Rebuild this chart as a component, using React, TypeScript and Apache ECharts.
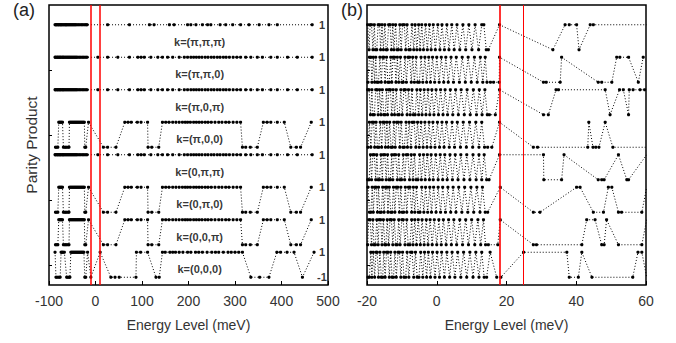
import React, { useEffect, useRef } from "react";
import * as echarts from "echarts";

type Pt = [number, number];

const FONT = "'Liberation Sans', Arial, Helvetica, sans-serif";

// row labels, top -> bottom
const kLabels = ["k=(π,π,π)", "k=(π,π,0)", "k=(π,0,π)", "k=(π,0,0)", "k=(0,π,π)", "k=(0,π,0)", "k=(0,0,π)", "k=(0,0,0)"];

// axis ranges / ticks
const aXTicks = [-100, 0, 100, 200, 300, 400, 500];
const bXTicks = [-20, 0, 20, 40, 60];
const yTickValues = [0, 5.2, 10.4, 15.6];
const aMarkers = [-10, 10];
const bMarkers = [18.2, 24.9];

// ---------- panel (a) ----------
// k=(π,π,π): all levels with parity +1
const aPiPiPiE = [-87, -85, -84, -82, -80, -79, -77, -75, -74, -72, -70, -68, -66, -64, -63, -61, -59, -57, -55, -53, -51, -49, -47, -45, -43, -41, -38, -35, -32, -29, -26, -23, -20, -18,
  26, 73, 116, 126, 159, 169, 198, 205, 216, 230, 241, 248, 268, 280, 295, 312, 330, 352, 373, 391, 466];
// k=(π,π,0), (π,0,π), (0,π,π): all +1
const aPiPi0E = [-87, -86, -84, -82, -81, -79, -77, -76, -74, -72, -70, -69, -67, -65, -63, -61, -59, -57, -55, -53, -51, -49, -47, -45, -43, -41, -39, -36, -33, -30, -27, -24, -21, -18,
  5, 26, 48, 73, 91, 98, 105, 119, 134, 144, 155, 166, 180, 191, 198, 205, 211, 217, 223, 229, 236, 242, 249, 255, 262, 268, 275, 281, 288, 296, 304, 312, 323, 334, 348, 359, 377, 391, 413, 434, 466];
// k=(π,0,0), (0,π,0), (0,0,π)
const aStepPts: Pt[] = [[-86, -1], [-84, -1], [-81, -1], [-79, 1], [-77, 1], [-75, 1], [-73, 1], [-71, 1], [-69, -1], [-66, -1], [-63, -1], [-60, -1], [-57, -1], [-56, 1], [-54, 1], [-52, 1], [-50, 1], [-48, 1], [-46, 1], [-44, 1], [-42, 1], [-40, 1], [-38, 1], [-36, 1], [-34, 1], [-32, 1], [-30, 1], [-28, 1], [-26, 1], [-24, 1], [-23, -1], [-21, -1], [-15, 1],
  [17, -1], [26, -1], [44, -1], [63, 1], [70, 1], [77, 1], [90, 1], [98, 1], [112, 1], [113, -1], [121, -1], [136, -1], [144, 1], [151, 1], [158, 1], [166, 1], [173, 1], [180, 1], [187, 1], [193, 1], [198, 1], [204, 1], [211, 1], [217, 1], [223, 1], [229, 1], [236, 1], [242, 1], [249, 1], [257, 1], [265, 1], [272, 1], [280, 1], [287, 1], [296, 1], [304, 1], [312, 1],
  [316, -1], [323, -1], [333, -1], [348, -1], [361, 1], [369, 1], [377, 1], [391, 1], [406, 1], [420, -1], [432, -1], [441, -1], [464, 1]];
// k=(0,0,0)
const a000Pts: Pt[] = [[-87, 1], [-85, -1], [-82, -1], [-79, -1], [-76, -1], [-74, 1], [-72, 1], [-70, 1], [-67, 1], [-62, -1], [-60, -1], [-57, -1], [-55, -1], [-53, 1], [-51, 1], [-49, 1], [-47, 1], [-45, 1], [-43, 1], [-41, 1], [-39, 1], [-37, 1], [-35, 1], [-33, 1], [-31, 1], [-29, 1], [-27, 1], [-25, 1], [-23, -1], [-21, -1], [-17, 1], [-10, -1], [10, 1],
  [33, -1], [42, -1], [51, -1], [87, -1], [88, 1], [97, 1], [112, 1], [130, -1], [137, -1], [144, 1], [150, 1], [160, 1], [166, 1], [172, 1], [180, 1], [188, 1], [198, 1], [205, 1], [215, 1], [222, 1], [230, 1], [240, 1], [250, 1], [258, 1], [265, 1], [275, 1], [285, 1], [292, 1], [300, 1], [308, 1], [316, 1],
  [334, -1], [353, -1], [373, -1], [390, 1], [398, 1], [412, 1], [427, 1], [445, -1], [470, 1]];

// ---------- panel (b) ----------
const bPiPiPi: Pt[] = [[-19.8, 1], [-19.4, -1], [-19.1, 1], [-18.7, 1], [-18.3, -1], [-17.9, 1], [-17.6, -1], [-17.2, -1], [-16.8, 1], [-16.4, 1], [-16.1, -1], [-15.7, 1], [-15.3, -1], [-14.9, 1], [-14.5, -1], [-14.2, -1], [-13.8, 1], [-13.4, 1], [-13.0, -1], [-12.6, 1], [-12.3, -1], [-11.8, 1], [-11.4, -1], [-11.0, -1], [-10.6, 1], [-10.2, -1], [-9.8, 1], [-9.3, 1], [-8.9, -1], [-8.5, 1], [-8.0, -1], [-7.6, -1], [-7.1, 1], [-6.6, -1], [-6.2, 1], [-5.7, -1], [-5.2, 1], [-4.8, -1], [-4.3, 1], [-3.8, -1], [-3.2, 1], [-2.7, -1], [-2.1, 1], [-1.6, -1], [-1.0, 1], [-0.4, -1], [0.3, 1], [0.9, -1], [1.5, 1], [2.2, -1], [2.9, 1], [3.5, -1], [4.3, 1], [5.0, -1], [5.8, 1], [6.6, -1], [7.5, 1], [8.3, -1], [9.2, 1], [10.1, -1], [11.0, 1], [12.0, -1], [12.9, 1], [13.5, 1], [14.2, -1], [14.8, -1],
  [18.0, 1], [33.3, -1], [36.8, 1], [38.0, 1], [40.1, 1], [40.8, -1], [44.0, 1], [44.9, 1], [60.2, 1]];
const bPiPi0: Pt[] = [[-19.7, -1], [-19.3, 1], [-18.9, 1], [-18.6, -1], [-18.2, 1], [-17.8, -1], [-17.5, 1], [-17.1, -1], [-16.7, -1], [-16.3, 1], [-15.9, -1], [-15.5, 1], [-15.2, 1], [-14.8, -1], [-14.4, 1], [-14.0, -1], [-13.6, -1], [-13.2, 1], [-12.9, -1], [-12.5, 1], [-12.1, 1], [-11.7, -1], [-11.3, 1], [-10.9, -1], [-10.4, 1], [-10.0, -1], [-9.6, -1], [-9.1, 1], [-8.7, -1], [-8.2, 1], [-7.8, 1], [-7.3, -1], [-6.9, 1], [-6.4, -1], [-5.9, 1], [-5.5, -1], [-5.0, -1], [-4.5, 1], [-4.0, -1], [-3.4, 1], [-2.9, -1], [-2.3, 1], [-1.8, -1], [-1.2, 1], [-0.6, -1], [0.0, 1], [0.7, -1], [1.3, 1], [2.0, -1], [2.6, 1], [3.3, -1], [4.1, 1], [4.8, -1], [5.6, 1], [6.5, -1], [7.3, 1], [8.2, -1], [9.0, 1], [9.9, -1], [10.8, 1], [11.6, -1], [12.5, 1], [13.2, -1], [13.9, 1], [14.4, -1], [15.4, -1], [16.3, -1], [17.9, -1],
  [18.0, 1], [30.6, -1], [31.4, -1], [35.4, -1], [35.8, 1], [46.3, -1], [47.3, -1], [50.2, -1], [51.6, 1], [52.5, 1], [55.0, 1], [57.8, -1], [59.2, 1]];
const bPi0Pi: Pt[] = [[-19.8, 1], [-19.4, 1], [-19.0, -1], [-18.6, 1], [-18.3, -1], [-17.9, -1], [-17.5, 1], [-17.1, 1], [-16.8, -1], [-16.4, 1], [-16.0, -1], [-15.6, 1], [-15.2, -1], [-14.8, -1], [-14.4, 1], [-14.1, -1], [-13.7, 1], [-13.3, 1], [-12.9, -1], [-12.5, 1], [-12.1, -1], [-11.6, 1], [-11.2, -1], [-10.8, -1], [-10.3, 1], [-9.9, -1], [-9.4, 1], [-9.0, 1], [-8.5, -1], [-8.1, 1], [-7.6, -1], [-7.1, 1], [-6.7, -1], [-6.2, -1], [-5.7, 1], [-5.2, -1], [-4.7, 1], [-4.2, -1], [-3.6, 1], [-3.1, -1], [-2.5, 1], [-2.0, -1], [-1.4, 1], [-0.8, -1], [-0.2, 1], [0.5, -1], [1.1, 1], [1.8, -1], [2.4, 1], [3.1, -1], [3.9, 1], [4.6, -1], [5.4, 1], [6.2, -1], [7.0, 1], [7.9, -1], [8.7, 1], [9.6, -1], [10.5, 1], [11.4, -1], [12.2, 1], [13.0, -1], [13.8, 1], [14.5, -1], [15.1, -1], [16.8, -1],
  [18.0, 1], [30.6, -1], [32.0, -1], [34.2, 1], [34.9, 1], [48.3, 1], [49.7, -1], [52.4, 1], [53.5, 1], [55.0, -1], [55.2, 1], [56.3, 1], [58.3, 1], [59.6, 1]];
const bPi00: Pt[] = [[-19.7, -1], [-19.3, 1], [-18.9, -1], [-18.5, 1], [-18.1, 1], [-17.8, -1], [-17.4, 1], [-17.0, -1], [-16.6, -1], [-16.2, 1], [-15.8, -1], [-15.4, 1], [-15.0, 1], [-14.7, -1], [-14.3, 1], [-13.9, -1], [-13.5, 1], [-13.1, -1], [-12.7, -1], [-12.3, 1], [-11.9, -1], [-11.5, 1], [-11.0, 1], [-10.6, -1], [-10.2, 1], [-9.7, -1], [-9.3, -1], [-8.8, 1], [-8.4, -1], [-7.9, 1], [-7.4, -1], [-7.0, 1], [-6.5, 1], [-6.0, -1], [-5.5, 1], [-5.0, -1], [-4.5, 1], [-3.9, -1], [-3.4, 1], [-2.8, -1], [-2.2, 1], [-1.7, -1], [-1.1, 1], [-0.5, -1], [0.2, 1], [0.8, -1], [1.5, 1], [2.1, -1], [2.8, 1], [3.6, -1], [4.4, 1], [5.1, -1], [5.9, 1], [6.8, -1], [7.6, 1], [8.5, -1], [9.4, 1], [10.3, -1], [11.2, 1], [12.1, -1], [12.9, 1], [13.7, -1], [14.6, -1], [15.8, -1],
  [18.0, 1], [27.7, -1], [28.9, -1], [43.3, -1], [43.6, 1], [44.8, -1], [45.6, -1], [46.5, -1], [48.3, 1], [50.5, -1], [60.2, -1]];
const b0PiPi: Pt[] = [[-19.8, -1], [-19.4, -1], [-19.0, 1], [-18.7, -1], [-18.3, 1], [-17.9, 1], [-17.5, -1], [-17.2, 1], [-16.8, -1], [-16.4, -1], [-16.0, 1], [-15.6, -1], [-15.3, 1], [-14.9, 1], [-14.5, -1], [-14.1, 1], [-13.7, -1], [-13.3, -1], [-12.9, 1], [-12.6, -1], [-12.2, 1], [-11.8, 1], [-11.3, -1], [-10.9, 1], [-10.5, -1], [-10.1, -1], [-9.6, 1], [-9.2, -1], [-8.7, 1], [-8.3, 1], [-7.8, -1], [-7.3, 1], [-6.8, -1], [-6.4, 1], [-5.9, -1], [-5.4, -1], [-4.9, 1], [-4.4, -1], [-3.8, 1], [-3.3, -1], [-2.7, 1], [-2.1, -1], [-1.6, 1], [-1.0, -1], [-0.3, 1], [0.4, -1], [1.0, 1], [1.7, -1], [2.3, 1], [3.0, -1], [3.8, 1], [4.5, -1], [5.3, 1], [6.1, -1], [6.9, 1], [7.8, -1], [8.6, 1], [9.5, -1], [10.4, 1], [11.3, -1], [12.1, 1], [12.9, -1], [13.6, 1], [14.3, -1], [15.0, -1],
  [18.0, 1], [30.6, 1], [30.7, -1], [35.8, -1], [36.5, 1], [46.3, -1], [47.3, -1], [48.0, -1], [52.1, 1], [54.5, -1], [55.0, -1], [60.2, 1]];
const b0Pi0: Pt[] = [[-19.7, 1], [-19.3, -1], [-18.9, -1], [-18.5, 1], [-18.2, -1], [-17.8, 1], [-17.4, 1], [-17.0, -1], [-16.7, 1], [-16.3, -1], [-15.9, -1], [-15.5, 1], [-15.1, -1], [-14.7, 1], [-14.3, 1], [-14.0, -1], [-13.6, 1], [-13.2, -1], [-12.8, -1], [-12.4, 1], [-12.0, -1], [-11.6, 1], [-11.2, 1], [-10.7, -1], [-10.3, 1], [-9.9, -1], [-9.5, -1], [-9.0, 1], [-8.6, -1], [-8.1, 1], [-7.7, 1], [-7.2, -1], [-6.7, 1], [-6.3, -1], [-5.8, 1], [-5.3, -1], [-4.8, -1], [-4.3, 1], [-3.7, -1], [-3.2, 1], [-2.6, -1], [-2.0, 1], [-1.5, -1], [-0.9, 1], [-0.2, -1], [0.4, 1], [1.1, -1], [1.7, 1], [2.5, -1], [3.2, 1], [4.0, -1], [4.7, 1], [5.5, -1], [6.3, 1], [7.2, -1], [8.0, 1], [8.9, -1], [9.8, 1], [10.6, -1], [11.5, 1], [12.4, -1], [13.1, 1], [13.9, -1], [14.6, -1],
  [18.2, 1], [27.7, -1], [29.6, -1], [40.1, 1], [41.1, 1], [44.9, -1], [47.8, -1], [49.2, 1], [50.2, 1], [52.1, -1], [53.0, -1], [58.8, -1], [60.2, 1]];
const b00Pi: Pt[] = [[-19.8, -1], [-19.5, 1], [-19.1, 1], [-18.7, -1], [-18.3, 1], [-18.0, -1], [-17.6, -1], [-17.2, 1], [-16.8, -1], [-16.5, 1], [-16.1, 1], [-15.7, -1], [-15.3, 1], [-14.9, -1], [-14.6, -1], [-14.2, 1], [-13.8, -1], [-13.4, 1], [-13.0, 1], [-12.6, -1], [-12.2, 1], [-11.7, -1], [-11.3, -1], [-10.9, 1], [-10.5, -1], [-10.0, 1], [-9.6, 1], [-9.1, -1], [-8.6, 1], [-8.2, -1], [-7.7, -1], [-7.2, 1], [-6.8, -1], [-6.3, 1], [-5.8, -1], [-5.3, 1], [-4.7, -1], [-4.2, 1], [-3.6, -1], [-3.0, 1], [-2.5, -1], [-1.9, 1], [-1.3, -1], [-0.7, 1], [0.0, -1], [0.6, 1], [1.3, -1], [1.9, 1], [2.7, -1], [3.4, 1], [4.2, -1], [4.9, 1], [5.7, -1], [6.6, 1], [7.4, -1], [8.3, 1], [9.1, -1], [10.0, 1], [10.9, -1], [11.8, 1], [12.6, -1], [13.4, 1], [14.0, -1], [14.8, -1], [17.5, -1],
  [18.2, 1], [27.7, -1], [28.6, -1], [41.6, -1], [43.0, 1], [45.4, 1], [47.3, -1], [48.0, -1], [48.7, 1], [52.1, -1], [58.8, -1], [60.2, 1]];
const b000: Pt[] = [[-19.7, -1], [-19.3, -1], [-18.9, 1], [-18.6, -1], [-18.2, 1], [-17.8, -1], [-17.4, 1], [-17.1, 1], [-16.7, -1], [-16.3, 1], [-15.9, -1], [-15.5, -1], [-15.2, 1], [-14.8, -1], [-14.4, 1], [-14.0, 1], [-13.6, -1], [-13.2, 1], [-12.8, -1], [-12.4, -1], [-12.0, 1], [-11.6, -1], [-11.1, 1], [-10.7, 1], [-10.3, -1], [-9.8, 1], [-9.4, -1], [-8.9, -1], [-8.5, 1], [-8.0, -1], [-7.5, 1], [-7.1, 1], [-6.6, -1], [-6.1, 1], [-5.6, -1], [-5.1, -1], [-4.6, 1], [-4.0, -1], [-3.5, 1], [-2.9, -1], [-2.4, 1], [-1.8, -1], [-1.2, 1], [-0.5, -1], [0.1, 1], [0.8, -1], [1.4, 1], [2.2, -1], [2.9, 1], [3.7, -1], [4.4, 1], [5.2, -1], [6.0, 1], [6.9, -1], [7.7, 1], [8.6, -1], [9.5, 1], [10.4, -1], [11.2, 1], [12.1, -1], [12.9, 1], [13.6, -1], [14.3, -1], [15.3, 1],
  [17.2, -1], [18.4, -1], [24.9, 1], [37.3, 1], [38.0, -1], [40.6, -1], [41.6, 1], [44.5, -1], [56.2, -1], [57.7, 1], [58.8, 1], [60.2, -1]];

const ROW_STEP = 2.6;
const Y_MIN = -1.62;
const Y_MAX = 20.78;
const off = (idx: number) => (7 - idx) * ROW_STEP; // idx counted from top row

const flat = (es: number[]): Pt[] => es.map((e) => [e, 1] as Pt);

const aRows: Pt[][] = [flat(aPiPiPiE), flat(aPiPi0E), flat(aPiPi0E), aStepPts, flat(aPiPi0E), aStepPts, aStepPts, a000Pts];
const bRows: Pt[][] = [bPiPiPi, bPiPi0, bPi0Pi, bPi00, b0PiPi, b0Pi0, b00Pi, b000];

const aLabelX = 487;
const aKLabelX = 224;

function rowSeries(pts: Pt[], idx: number, panel: number, extra: any = {}) {
  return {
    type: "line",
    xAxisIndex: panel,
    yAxisIndex: panel,
    data: pts.map(([e, p]) => [e, off(idx) + p]),
    symbol: "circle",
    symbolSize: 3.2,
    itemStyle: { color: "#000" },
    lineStyle: { color: "#000", width: 1, type: [1, 2] },
    silent: true,
    z: 3,
    ...extra,
  };
}

function markLines(vals: number[], widths: number[]) {
  return {
    silent: true,
    symbol: ["none", "none"],
    label: { show: false },
    data: vals.map((v, i) => ({ xAxis: v, lineStyle: { color: "#ff0000", width: widths[i], type: "solid" } })),
  };
}

export default function App() {
  const ref = useRef<HTMLDivElement>(null);
  useEffect(() => {
    if (!ref.current) return;
    const chart = echarts.init(ref.current, undefined, { renderer: "svg" });
    const axisLabel = { fontSize: 14, color: "#333", margin: 9, fontFamily: FONT };
    const nameStyle = { fontSize: 14, color: "#333", fontFamily: FONT };
    const xCommon = {
      type: "value",
      axisLine: { show: false, onZero: false },
      splitLine: { show: false },
      axisTick: { show: true, inside: true, length: 4, lineStyle: { color: "#000", width: 1 } },
      axisLabel,
      name: "Energy Level (meV)",
      nameLocation: "middle",
      nameGap: 33,
      nameTextStyle: nameStyle,
    };
    const yCommon = {
      type: "value",
      min: Y_MIN,
      max: Y_MAX,
      axisLine: { show: false, onZero: false },
      splitLine: { show: false },
      axisLabel: { show: false },
      axisTick: { show: true, inside: true, length: 3, customValues: yTickValues, lineStyle: { color: "#000" } },
    };

    const labelStyle = { show: true, position: "inside", formatter: (p: any) => p.name, fontSize: 11, fontWeight: "bold", color: "#000", fontFamily: FONT };

    const series: any[] = [];
    aRows.forEach((pts, i) => {
      series.push(rowSeries(pts, i, 0, i === 0 ? { markLine: markLines(aMarkers, [1.5, 1.5]) } : {}));
    });
    bRows.forEach((pts, i) => {
      series.push(rowSeries(pts, i, 1, i === 0 ? { markLine: markLines(bMarkers, [1.6, 1]) } : {}));
    });
    // right-hand parity labels in panel (a)
    const rightLabels: any[] = kLabels.map((_, i) => ({ value: [aLabelX, off(i) + 1], name: "1" }));
    rightLabels.push({ value: [aLabelX, off(7) - 1], name: "-1" });
    series.push({
      type: "scatter",
      xAxisIndex: 0,
      yAxisIndex: 0,
      data: rightLabels,
      symbol: "circle",
      symbolSize: 2,
      itemStyle: { color: "rgba(0,0,0,0)" },
      silent: true,
      label: labelStyle,
      labelLayout: { hideOverlap: false },
      z: 5,
    });
    series.push({
      type: "scatter",
      xAxisIndex: 0,
      yAxisIndex: 0,
      data: kLabels.map((k, i) => ({ value: [aKLabelX, off(i) - 0.36], name: k })),
      symbol: "circle",
      symbolSize: 2,
      itemStyle: { color: "rgba(0,0,0,0)" },
      silent: true,
      label: labelStyle,
      labelLayout: { hideOverlap: false },
      z: 5,
    });

    chart.setOption({
      animation: false,
      textStyle: { fontFamily: FONT },
      grid: [
        { left: 49, top: 5, width: 279, height: 280, show: true, borderColor: "#000", borderWidth: 1.5, backgroundColor: "transparent" },
        { left: 367, top: 5, width: 279, height: 280, show: true, borderColor: "#000", borderWidth: 1.5, backgroundColor: "transparent" },
      ],
      xAxis: [
        { ...xCommon, gridIndex: 0, min: aXTicks[0], max: aXTicks[aXTicks.length - 1], interval: aXTicks[1] - aXTicks[0] },
        { ...xCommon, gridIndex: 1, min: bXTicks[0], max: bXTicks[bXTicks.length - 1], interval: bXTicks[1] - bXTicks[0] },
      ],
      yAxis: [
        { ...yCommon, gridIndex: 0, name: "Parity Product", nameLocation: "middle", nameGap: 10, nameTextStyle: { ...nameStyle, fontSize: 15.5 } },
        { ...yCommon, gridIndex: 1 },
      ],
      graphic: [
        { type: "text", left: 13, top: 1, style: { text: "(a)", fontSize: 18, fill: "#222", fontFamily: FONT } },
        { type: "text", left: 341, top: 1, style: { text: "(b)", fontSize: 18, fill: "#222", fontFamily: FONT } },
      ],
      series,
    });
    return () => chart.dispose();
  }, []);
  return <div ref={ref} style={{ position: "absolute", left: 0, top: 0, width: 676, height: 343 }} />;
}
